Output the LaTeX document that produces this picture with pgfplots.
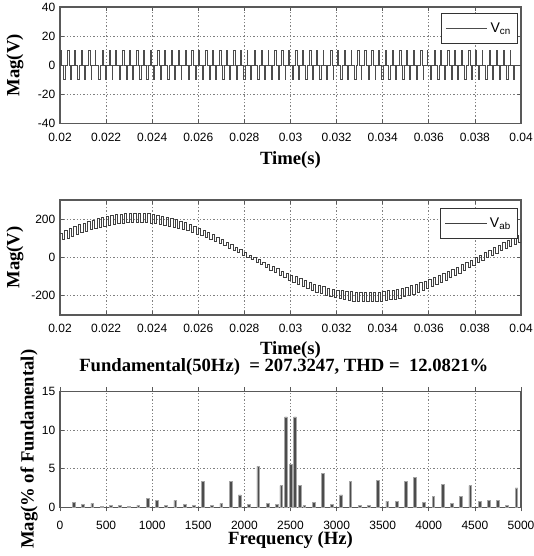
\documentclass[border=0pt]{standalone}
\usepackage{fontspec}
\setmainfont{Liberation Serif}
\setsansfont{Liberation Sans}
\usepackage{pgfplots}
\pgfplotsset{compat=1.18}

% common look of the three matlab-style panels
\pgfplotsset{
  mplot/.style={
    scale only axis, width=345.75pt, anchor=south west,
    scaled x ticks=false, scaled y ticks=false,
    axis line style={black!65, line width=0.9pt},
    tick style={black!65, line width=0.6pt},
    major tick length=3pt, tick align=inside,
    xtick pos=both, ytick pos=both,
    grid=major,
    major grid style={black!50, line width=0.5pt, dash pattern=on 1pt off 1.5pt},
    ticklabel style={font=\sffamily\fontsize{9}{10}\selectfont},
    xticklabel style={yshift=-3.5pt},
    label style={font=\bfseries\fontsize{14}{16}\selectfont},
    /pgf/number format/assume math mode=true,
    legend style={draw=black!80, line width=0.7pt, fill=white, anchor=north east,
      font=\sffamily\fontsize{10.5}{12}\selectfont, inner xsep=3pt, inner ysep=5pt,
      cells={anchor=west}},
    legend image code/.code={\draw[#1, line width=0.8pt] (0pt,0pt) -- (31pt,0pt);},
  },
  timex/.style={
    xmin=0.02, xmax=0.04,
    xtick={0.02,0.022,0.024,0.026,0.028,0.03,0.032,0.034,0.036,0.038,0.04},
    xticklabels={0.02,0.022,0.024,0.026,0.028,0.03,0.032,0.034,0.036,0.038,0.04},
    xlabel={Time(s)}, ylabel={Mag(V)},
  },
}

\begin{document}
\begin{tikzpicture}

% V_cn
\begin{axis}[mplot, timex, at={(45pt,324.4pt)}, height=87.4pt,
  ymin=-40, ymax=40, ytick={-40,-20,0,20,40}, yticklabels={-40,-20,0,20,40},
  xlabel style={at={(axis description cs:0.5,-0.313)}, anchor=center},
  ylabel style={at={(axis description cs:-0.0976,0.5)}, anchor=center},
  legend style={at={(0.9935,0.948)}}]
\addplot[const plot, black!70, line width=0.55pt] coordinates {
(0.02,0)
(0.02002,10) (0.02006,0) (0.02016,-10) (0.02022,0)
(0.02032,10) (0.02039,0) (0.02046,-10) (0.02049,0)
(0.02062,10) (0.02065,0) (0.02076,-10) (0.02084,0)
(0.02092,10) (0.02098,0) (0.02106,-10) (0.02110,0)
(0.02122,10) (0.02130,0) (0.02136,-10) (0.02138,0)
(0.02152,10) (0.02154,0) (0.02166,-10) (0.02173,0)
(0.02182,10) (0.02187,0) (0.02196,-10) (0.02201,0)
(0.02212,10) (0.02219,0) (0.02226,-10) (0.02229,0)
(0.02242,10) (0.02245,0) (0.02256,-10) (0.02264,0)
(0.02272,10) (0.02278,0) (0.02286,-10) (0.02292,0)
(0.02302,10) (0.02306,0) (0.02316,-10) (0.02318,0)
(0.02332,10) (0.02340,0) (0.02346,-10) (0.02351,0)
(0.02362,10) (0.02364,0) (0.02376,-10) (0.02383,0)
(0.02392,10) (0.02397,0) (0.02406,-10) (0.02410,0)
(0.02422,10) (0.02429,0) (0.02436,-10) (0.02439,0)
(0.02452,10) (0.02455,0) (0.02466,-10) (0.02474,0)
(0.02482,10) (0.02488,0) (0.02496,-10) (0.02502,0)
(0.02512,10) (0.02516,0) (0.02526,-10) (0.02528,0)
(0.02542,10) (0.02550,0) (0.02556,-10) (0.02561,0)
(0.02572,10) (0.02577,0) (0.02586,-10) (0.02593,0)
(0.02602,10) (0.02605,0) (0.02616,-10) (0.02620,0)
(0.02632,10) (0.02639,0) (0.02646,-10) (0.02654,0)
(0.02662,10) (0.02664,0) (0.02676,-10) (0.02679,0)
(0.02692,10) (0.02698,0) (0.02706,-10) (0.02712,0)
(0.02722,10) (0.02726,0) (0.02736,-10) (0.02741,0)
(0.02752,10) (0.02760,0) (0.02766,-10) (0.02768,0)
(0.02782,10) (0.02787,0) (0.02796,-10) (0.02803,0)
(0.02812,10) (0.02815,0) (0.02826,-10) (0.02830,0)
(0.02842,10) (0.02849,0) (0.02856,-10) (0.02864,0)
(0.02872,10) (0.02878,0) (0.02886,-10) (0.02889,0)
(0.02902,10) (0.02904,0) (0.02916,-10) (0.02922,0)
(0.02932,10) (0.02937,0) (0.02946,-10) (0.02951,0)
(0.02962,10) (0.02970,0) (0.02976,-10) (0.02978,0)
(0.02992,10) (0.02996,0) (0.03006,-10) (0.03013,0)
(0.03022,10) (0.03028,0) (0.03036,-10) (0.03040,0)
(0.03052,10) (0.03055,0) (0.03066,-10) (0.03074,0)
(0.03082,10) (0.03089,0) (0.03096,-10) (0.03099,0)
(0.03112,10) (0.03117,0) (0.03126,-10) (0.03132,0)
(0.03142,10) (0.03144,0) (0.03156,-10) (0.03161,0)
(0.03172,10) (0.03180,0) (0.03186,-10) (0.03188,0)
(0.03202,10) (0.03206,0) (0.03216,-10) (0.03223,0)
(0.03232,10) (0.03238,0) (0.03246,-10) (0.03250,0)
(0.03262,10) (0.03265,0) (0.03276,-10) (0.03284,0)
(0.03292,10) (0.03299,0) (0.03306,-10) (0.03309,0)
(0.03322,10) (0.03327,0) (0.03336,-10) (0.03342,0)
(0.03352,10) (0.03360,0) (0.03366,-10) (0.03368,0)
(0.03382,10) (0.03384,0) (0.03396,-10) (0.03401,0)
(0.03412,10) (0.03418,0) (0.03426,-10) (0.03433,0)
(0.03442,10) (0.03446,0) (0.03456,-10) (0.03460,0)
(0.03472,10) (0.03479,0) (0.03486,-10) (0.03494,0)
(0.03502,10) (0.03505,0) (0.03516,-10) (0.03519,0)
(0.03532,10) (0.03537,0) (0.03546,-10) (0.03552,0)
(0.03562,10) (0.03570,0) (0.03576,-10) (0.03578,0)
(0.03592,10) (0.03594,0) (0.03606,-10) (0.03611,0)
(0.03622,10) (0.03628,0) (0.03636,-10) (0.03644,0)
(0.03652,10) (0.03656,0) (0.03666,-10) (0.03670,0)
(0.03682,10) (0.03689,0) (0.03696,-10) (0.03703,0)
(0.03712,10) (0.03715,0) (0.03726,-10) (0.03729,0)
(0.03742,10) (0.03747,0) (0.03756,-10) (0.03762,0)
(0.03772,10) (0.03780,0) (0.03786,-10) (0.03788,0)
(0.03802,10) (0.03808,0) (0.03816,-10) (0.03821,0)
(0.03832,10) (0.03834,0) (0.03846,-10) (0.03854,0)
(0.03862,10) (0.03866,0) (0.03876,-10) (0.03880,0)
(0.03892,10) (0.03899,0) (0.03906,-10) (0.03909,0)
(0.03922,10) (0.03927,0) (0.03936,-10) (0.03943,0)
(0.03952,10) (0.03955,0) (0.03966,-10) (0.03972,0)
(0.04,0)
};
\addlegendentry{V\textsubscript{cn}}
\end{axis}

% V_ab
\begin{axis}[mplot, timex, at={(45pt,180.75pt)}, height=86.25pt,
  ymin=-300, ymax=300, ytick={-200,0,200}, yticklabels={-200,0,200},
  xlabel style={at={(axis description cs:0.5,-0.304)}, anchor=center},
  ylabel style={at={(axis description cs:-0.0976,0.5)}, anchor=center},
  legend style={at={(0.9935,0.93)}}]
\addplot[const plot, black!75, line width=0.55pt] coordinates {
(0.0200,128) (0.0201,92) (0.0202,139) (0.0203,101) (0.0204,151) (0.0205,111)
(0.0206,161) (0.0207,121) (0.0208,171) (0.0209,129) (0.0210,180) (0.0211,138)
(0.0212,189) (0.0213,145) (0.0214,196) (0.0215,152) (0.0216,203) (0.0217,159)
(0.0218,210) (0.0219,164) (0.0220,215) (0.0221,169) (0.0222,219) (0.0223,173)
(0.0224,224) (0.0225,176) (0.0226,227) (0.0227,179) (0.0228,229) (0.0229,181)
(0.0230,231) (0.0231,183) (0.0232,231) (0.0233,183) (0.0234,231) (0.0235,183)
(0.0236,230) (0.0237,182) (0.0238,228) (0.0239,180) (0.0240,225) (0.0241,177)
(0.0242,220) (0.0243,174) (0.0244,216) (0.0245,170) (0.0246,211) (0.0247,165)
(0.0248,205) (0.0249,159) (0.0250,198) (0.0251,154) (0.0252,190) (0.0253,146)
(0.0254,181) (0.0255,139) (0.0256,173) (0.0257,131) (0.0258,163) (0.0259,123)
(0.0260,153) (0.0261,113) (0.0262,142) (0.0263,104) (0.0264,130) (0.0265,94)
(0.0266,119) (0.0267,83) (0.0268,106) (0.0269,72) (0.0270,95) (0.0271,61)
(0.0272,81) (0.0273,49) (0.0274,68) (0.0275,38) (0.0276,54) (0.0277,26)
(0.0278,41) (0.0279,13) (0.0280,27) (0.0281,1) (0.0282,13) (0.0283,-11)
(0.0284,1) (0.0285,-25) (0.0286,-12) (0.0287,-38) (0.0288,-23) (0.0289,-51)
(0.0290,-35) (0.0291,-65) (0.0292,-47) (0.0293,-79) (0.0294,-59) (0.0295,-91)
(0.0296,-70) (0.0297,-104) (0.0298,-81) (0.0299,-117) (0.0300,-92) (0.0301,-128)
(0.0302,-101) (0.0303,-139) (0.0304,-111) (0.0305,-151) (0.0306,-121) (0.0307,-161)
(0.0308,-129) (0.0309,-171) (0.0310,-138) (0.0311,-180) (0.0312,-145) (0.0313,-189)
(0.0314,-152) (0.0315,-196) (0.0316,-159) (0.0317,-203) (0.0318,-164) (0.0319,-210)
(0.0320,-169) (0.0321,-215) (0.0322,-173) (0.0323,-219) (0.0324,-176) (0.0325,-224)
(0.0326,-179) (0.0327,-227) (0.0328,-181) (0.0329,-229) (0.0330,-183) (0.0331,-231)
(0.0332,-183) (0.0333,-231) (0.0334,-183) (0.0335,-231) (0.0336,-182) (0.0337,-230)
(0.0338,-180) (0.0339,-228) (0.0340,-177) (0.0341,-225) (0.0342,-174) (0.0343,-220)
(0.0344,-170) (0.0345,-216) (0.0346,-165) (0.0347,-211) (0.0348,-159) (0.0349,-205)
(0.0350,-154) (0.0351,-198) (0.0352,-146) (0.0353,-190) (0.0354,-139) (0.0355,-181)
(0.0356,-131) (0.0357,-173) (0.0358,-123) (0.0359,-163) (0.0360,-113) (0.0361,-153)
(0.0362,-104) (0.0363,-142) (0.0364,-94) (0.0365,-130) (0.0366,-83) (0.0367,-119)
(0.0368,-72) (0.0369,-106) (0.0370,-61) (0.0371,-95) (0.0372,-49) (0.0373,-81)
(0.0374,-38) (0.0375,-68) (0.0376,-26) (0.0377,-54) (0.0378,-13) (0.0379,-41)
(0.0380,-1) (0.0381,-27) (0.0382,11) (0.0383,-13) (0.0384,25) (0.0385,-1)
(0.0386,38) (0.0387,12) (0.0388,51) (0.0389,23) (0.0390,65) (0.0391,35)
(0.0392,79) (0.0393,47) (0.0394,91) (0.0395,59) (0.0396,104) (0.0397,70)
(0.0398,117) (0.0399,81) (0.0400,128)
};
\addlegendentry{V\textsubscript{ab}}
\end{axis}

% harmonic spectrum
\begin{axis}[mplot, at={(45pt,36.5pt)}, height=87pt,
  ybar, bar width=30,
  xmin=0, xmax=5000, ymin=0, ymax=15,
  xtick={0,500,1000,1500,2000,2500,3000,3500,4000,4500,5000},
  xticklabels={0,500,1000,1500,2000,2500,3000,3500,4000,4500,5000},
  ytick={0,5,10,15}, yticklabels={0,5,10,15},
  xlabel={Frequency (Hz)}, ylabel={Mag(\% of Fundamental)},
  xlabel style={at={(axis description cs:0.5,-0.282)}, anchor=center},
  ylabel style={at={(axis description cs:-0.0672,0.5)}, anchor=center},
  title={Fundamental(50Hz)\ \ = 207.3247, THD = \ 12.0821\%},
  title style={at={(axis description cs:0.5,1.14)}, anchor=center, xshift=-5pt,
    font=\bfseries\fontsize{14}{16}\selectfont}]
\addplot[fill=black!70, draw=black!35, line width=0.5pt] coordinates {
(150,0.6) (250,0.35) (350,0.5) (450,0.15) (550,0.2) (650,0.3) (750,0.15)
(850,0.3) (950,1.1) (1050,0.9) (1150,0.2) (1250,0.9) (1350,0.35) (1450,0.2)
(1550,3.3) (1650,0.2) (1750,0.5) (1850,3.3) (1950,1.6) (2050,0.35) (2150,5.3)
(2250,0.5) (2350,0.4) (2400,2.8) (2450,11.7) (2500,5.5) (2550,11.7) (2600,2.8)
(2650,0.2) (2750,0.6) (2850,4.4) (2950,0.4) (3050,1.6) (3150,3.3) (3250,0.2)
(3350,0.2) (3450,3.5) (3550,0.8) (3650,0.8) (3750,3.4) (3850,3.9) (3950,0.6)
(4050,1.4) (4150,3.0) (4250,0.5) (4350,1.4) (4450,2.8) (4550,0.8) (4650,0.9)
(4750,0.9) (4850,0.2) (4950,2.5)
};
\end{axis}

\pgfresetboundingbox
\path[use as bounding box] (0,0) rectangle (399.75pt,417pt);
\end{tikzpicture}
\end{document}
